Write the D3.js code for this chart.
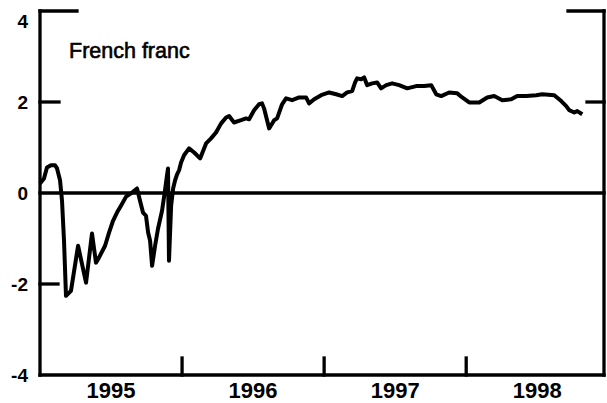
<!DOCTYPE html>
<html>
<head>
<meta charset="utf-8">
<script src="https://cdn.jsdelivr.net/npm/d3@7"></script>
<style>
  html, body { margin: 0; padding: 0; background: #fff; }
  svg { display: block; }
</style>
</head>
<body>
<div id="chart"></div>
<script>
// ---- data (decimal years, values) ----
const times = [
  1995.000, 1995.028, 1995.049, 1995.077, 1995.106, 1995.120, 1995.141, 1995.155, 1995.169, 1995.183,
  1995.218, 1995.268, 1995.324, 1995.366, 1995.394, 1995.415, 1995.458, 1995.486, 1995.514, 1995.542,
  1995.570, 1995.606, 1995.648, 1995.683, 1995.704, 1995.725, 1995.746, 1995.761, 1995.775, 1995.789,
  1995.810, 1995.831, 1995.859, 1995.880, 1995.894, 1995.901, 1995.908, 1995.923, 1995.937, 1995.951,
  1995.965, 1995.979, 1995.993, 1996.014, 1996.049, 1996.085, 1996.127, 1996.169, 1996.204, 1996.239,
  1996.275, 1996.310, 1996.331, 1996.366, 1996.415, 1996.451, 1996.472, 1996.507, 1996.542, 1996.563,
  1996.577, 1996.613, 1996.648, 1996.669, 1996.704, 1996.732, 1996.775, 1996.824, 1996.873, 1996.894,
  1996.930, 1996.979, 1997.035, 1997.085, 1997.127, 1997.162, 1997.197, 1997.218, 1997.232, 1997.261,
  1997.282, 1997.303, 1997.338, 1997.373, 1997.401, 1997.437, 1997.479, 1997.528, 1997.585, 1997.648,
  1997.704, 1997.754, 1997.789, 1997.824, 1997.880, 1997.937, 1997.972, 1998.021, 1998.092, 1998.148,
  1998.197, 1998.254, 1998.317, 1998.359, 1998.423, 1998.493, 1998.535, 1998.620, 1998.669, 1998.704,
  1998.725, 1998.761, 1998.782, 1998.817
];
const values = [
  0.21, 0.32, 0.56, 0.61, 0.61, 0.54, 0.28, -0.17, -1.05, -2.26,
  -2.15, -1.16, -1.97, -0.89, -1.53, -1.42, -1.16, -0.87, -0.61, -0.43,
  -0.28, -0.08, 0.01, 0.10, -0.17, -0.43, -0.50, -0.87, -1.05, -1.60,
  -1.16, -0.78, -0.39, 0.06, 0.39, 0.54, -1.49, -0.28, 0.10, 0.28,
  0.41, 0.50, 0.67, 0.83, 0.98, 0.89, 0.76, 1.09, 1.20, 1.33,
  1.53, 1.66, 1.69, 1.55, 1.60, 1.64, 1.62, 1.82, 1.95, 1.97,
  1.86, 1.42, 1.60, 1.64, 1.95, 2.08, 2.04, 2.10, 2.10, 1.97,
  2.06, 2.15, 2.21, 2.17, 2.13, 2.21, 2.24, 2.43, 2.52, 2.50,
  2.54, 2.37, 2.41, 2.43, 2.30, 2.37, 2.41, 2.37, 2.30, 2.35,
  2.35, 2.37, 2.17, 2.13, 2.21, 2.19, 2.10, 1.99, 1.99, 2.10,
  2.13, 2.04, 2.06, 2.13, 2.13, 2.15, 2.17, 2.15, 2.02, 1.91,
  1.82, 1.77, 1.80, 1.73
];
const yTickValues = [-4, -2, 0, 2, 4];
const yTickLabels = ["-4", "-2", "0", "2", "4"];
const yearTicks = [1996, 1997, 1998];           // year boundaries
const yearLabels = ["1995", "1996", "1997", "1998"];
const yearLabelPos = [1995.5, 1996.5, 1997.5, 1998.5];
const title = "French franc";

// ---- layout ----
const W = 607, H = 403;
const m = { left: 40, right: 3, top: 11, bottom: 28 };
const X0 = 1995, X1 = 1998.97;

const svg = d3.select("#chart").append("svg")
  .attr("width", W).attr("height", H);

const x = d3.scaleLinear().domain([X0, X1]).range([m.left, W - m.right]);
const y = d3.scaleLinear().domain([-4, 4]).range([H - m.bottom, m.top]);

const font = "'Liberation Sans', Arial, Helvetica, sans-serif";

function seg(x1, y1, x2, y2, w) {
  svg.append("line")
    .attr("x1", x1).attr("y1", y1).attr("x2", x2).attr("y2", y2)
    .attr("stroke", "#000").attr("stroke-width", w)
    .attr("stroke-linecap", "square");
}

// zero line
seg(x(X0), y(0), x(X1), y(0), 3.3);

// frame: left, bottom, right
seg(x(X0), y(4), x(X0), y(-4), 3.3);
seg(x(X0), y(-4), x(X1), y(-4), 3.3);
seg(x(X1), y(4), x(X1), y(-4), 3.3);

// inner ticks on left (4 long, 2 and -2 short)
const leftTickLen = { "4": 37, "2": 19, "-2": 18 };
Object.keys(leftTickLen).forEach(k => seg(x(X0), y(+k), x(X0) + leftTickLen[k], y(+k), 3.3));
// inner ticks on right (4 long, 2 short)
const rightTickLen = { "4": 36, "2": 17 };
Object.keys(rightTickLen).forEach(k => seg(x(X1) - rightTickLen[k], y(+k), x(X1), y(+k), 3.3));
// year boundary ticks on bottom
yearTicks.forEach(d => seg(x(d), y(-4), x(d), y(-4) - 17, 3.3));

// y labels
const yLabOffset = { "4": 10, "2": 0, "0": 0, "-2": 0, "-4": 0 };
svg.selectAll(".ylab").data(yTickValues).enter().append("text")
  .attr("x", 28)
  .attr("y", (d, i) => y(d) + yLabOffset[yTickLabels[i]])
  .attr("dy", "0.36em")
  .attr("text-anchor", "end")
  .attr("font-family", font).attr("font-weight", "bold").attr("font-size", 19)
  .text((d, i) => yTickLabels[i]);

// x labels
svg.selectAll(".xlab").data(yearLabels).enter().append("text")
  .attr("x", (d, i) => x(yearLabelPos[i]))
  .attr("y", 398)
  .attr("text-anchor", "middle")
  .attr("font-family", font).attr("font-weight", "bold").attr("font-size", 22)
  .text(d => d);

// title
svg.append("text")
  .attr("x", 69).attr("y", 58)
  .attr("font-family", font).attr("font-size", 21.5)
  .attr("stroke", "#000").attr("stroke-width", 0.6)
  .text(title);

// the line
const pts = times.map((t, i) => [t, values[i]]);
svg.append("path")
  .datum(pts)
  .attr("fill", "none")
  .attr("stroke", "#000")
  .attr("stroke-width", 4)
  .attr("stroke-linejoin", "round")
  .attr("d", d3.line().x(d => x(d[0])).y(d => y(d[1])));
</script>
</body>
</html>
